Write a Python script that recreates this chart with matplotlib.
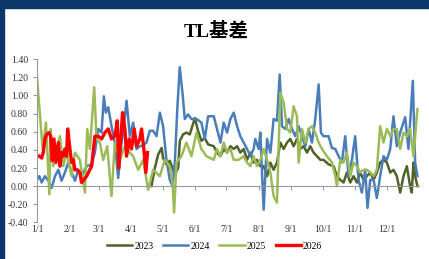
import matplotlib.pyplot as plt
from matplotlib.patches import Rectangle

# day of year (0 = 1/1) and basis values
d2023 = [109.4, 112.6, 115.8, 119.1, 120.5, 123.7, 126.9, 131.7, 134.9, 136.5, 139.6, 142.8, 146, 150.8,
         153.9, 157.1, 160.3, 163.5, 168.9, 172, 175.3, 178.4, 181.6, 184.8, 188, 191.2, 194.3, 197.5,
         200.7, 203.9, 207, 210.2, 213.4, 216.6, 219.8, 223, 226.1, 229.3, 232.5, 235.7, 238.9, 242,
         245.2, 248.4, 251.6, 254.8, 258, 261.1, 264.3, 267.5, 270.7, 273.8, 278.6, 283.4, 286.6, 289.8,
         292.9, 296.1, 299.3, 302.5, 305.7, 308.8, 312, 315.2, 318.4, 321.6, 324.7, 327.9, 331.1, 334.3,
         337.5, 340.6, 343.8, 347, 350.2, 353.4, 356.5, 358.1, 359.7, 361.3, 363.5]
v2023 = [0.0, 0.20, 0.35, 0.42, 0.31, 0.24, 0.28, 0.13, 0.20, 0.50, 0.57, 0.59, 0.57, 0.75,
         0.61, 0.50, 0.53, 0.46, 0.44, 0.37, 0.33, 0.41, 0.37, 0.44, 0.41, 0.44, 0.37, 0.41,
         0.29, 0.37, 0.26, 0.29, 0.22, 0.22, 0.11, 0.26, 0.18, 0.26, 0.48, 0.41, 0.48, 0.52,
         0.44, 0.52, 0.41, 0.44, 0.37, 0.44, 0.37, 0.33, 0.29, 0.29, 0.24, 0.22, 0.11, 0.07,
         0.04, 0.15, 0.04, 0.11, 0.04, 0.15, 0.07, 0.11, 0.15, 0.07, 0.15, 0.26, 0.29, 0.26,
         0.15, 0.18, 0.11, -0.07, 0.11, 0.22, 0.0, -0.07, 0.26, 0.11, 0.0]

d2024 = [0, 2.2, 4.5, 7.6, 10.8, 14, 17.2, 20.4, 23.5, 26.7, 29.9, 33.1, 36.3, 39.4, 42.6, 47.4, 52.2,
         55.3, 58.5, 61.7, 63.9, 65.8, 68.1, 71.2, 74.4, 77.6, 80.8, 83, 85.6, 88.7, 91.9, 95.1, 98.3,
         101.5, 104.6, 107.8, 111, 114.2, 117.4, 120.5, 123.7, 126.9, 129.5, 131.7, 134.2, 136.4, 139,
         141.2, 144.4, 147.6, 152.4, 157.1, 160.3, 163.5, 168.9, 172, 175.3, 178.4, 181.6, 184.8, 188,
         191.2, 194.3, 197.5, 200.7, 203.9, 207, 208.6, 211.8, 213.4, 215, 216.6, 219.8, 223, 226.1,
         229.3, 231.9, 234.1, 237.3, 240.5, 243.6, 246.8, 250, 253.2, 256.4, 259.5, 262.7, 265.9, 269.1,
         271.3, 273.8, 278.6, 281.8, 285, 288.2, 291.3, 294.5, 297.7, 300.9, 304, 307.2, 310.4, 313.6,
         315.8, 318.4, 321.6, 324.7, 327.9, 331.1, 334.3, 337.5, 340.6, 343.8, 347, 351.8, 354.9, 359.1,
         361.3, 363.5]
v2024 = [0.07, 0.11, 0.04, 0.11, 0.06, -0.02, 0.11, 0.18, 0.06, 0.15, 0.26, 0.15, 0.06, 0.18, 0.11, 0.22, 0.24,
         0.37, 0.63, 0.59, 0.99, 0.81, 0.87, 0.66, 0.48, 0.09, 0.48, 0.66, 0.94, 0.55, 0.70, 0.41, 0.44,
         0.45, 0.48, 0.61, 0.61, 0.55, 0.81, 0.66, 0.29, 0.07, 0.0, 0.26, 0.88, 1.31, 1.03,
         0.74, 0.79, 0.74, 0.74, 0.70, 0.52, 0.77, 0.77, 0.63, 0.48, 0.70, 0.59, 0.74, 0.81,
         0.66, 0.55, 0.48, 0.41, 0.33, 0.41, 0.52, 0.41, 0.59, 0.15, -0.26, 0.52, 0.37, 0.74,
         0.72, 1.23, 0.66, 0.63, 0.74, 0.63, 0.55, 0.66, 0.55, 0.44, 0.63, 0.48, 0.74, 1.12,
         0.59, 0.55, 0.55, 0.42, 0.41, 0.33, 0.26, 0.55, 0.11, 0.29, 0.55, 0.07, -0.07, 0.18,
         -0.24, 0.07, 0.07, -0.13, 0.11, 0.33, 0.29, 0.41, 0.77, 0.44, 0.59, 0.76, 0.41, 1.16,
         0.26, 0.11]

d2025 = [0, 5.4, 8.6, 11.8, 13, 15.6, 18.8, 21.9, 25.1, 28.3, 33.1, 36.3, 41, 45.8, 48, 50.6, 54.7,
         56.9, 60.1, 63.3, 67.1, 71.2, 74.4, 79.2, 84, 88.7, 91.9, 96.7, 101.5, 106.2, 111, 117.4, 122.1,
         126.9, 129.5, 131, 133.3, 138, 142.8, 147.6, 152.4, 157.1, 161.9, 168.9, 172, 175.3, 178.4,
         181.6, 184.8, 188, 192.7, 197.5, 200.7, 203.9, 207, 210.2, 213.4, 216.6, 219.8, 223, 226.1,
         229.3, 232.5, 235.7, 238.9, 242, 245.2, 248.4, 250, 253.2, 256.4, 259.5, 262.7, 265.9, 269.1,
         272.3, 277, 281.8, 285, 286.6, 289.8, 292.9, 296.1, 299.3, 302.5, 305.7, 308.8, 312, 315.2,
         318.4, 321.6, 324.7, 327.9, 331.1, 334.3, 337.5, 340.6, 343.8, 347, 350.2, 353.4, 356.5,
         359.7, 363.5]
v2025 = [1.20, 0.41, 0.70, -0.09, 0.63, 0.22, 0.41, 0.55, 0.22, 0.37, 0.11, 0.37, 0.29, -0.07, 0.63, 0.41, 1.09,
         0.52, 0.48, 0.29, 0.44, -0.11, 0.48, 0.29, 0.44, 0.37, 0.33, 0.18, 0.29, -0.04, 0.18, 0.11, 0.29,
         0.22, 0.04, -0.29, 0.26, 0.33, 0.48, 0.33, 0.59, 0.41, 0.33, 0.29, 0.41, 0.33, 0.48,
         0.37, 0.41, 0.29, 0.29, 0.33, 0.26, 0.22, 0.33, 0.22, 0.29, 0.41, 0.29, 0.15, -0.11,
         -0.18, 1.03, 0.92, 0.63, 0.59, 0.88, 0.77, 0.26, 0.63, 0.48, 0.63, 0.66, 0.59, 0.48,
         0.41, 0.33, 0.26, 0.11, 0.0, 0.29, 0.26, 0.37, 0.11, 0.26, 0.22, 0.15, 0.18, 0.18,
         0.15, 0.11, 0.18, 0.66, 0.48, 0.63, 0.55, 0.63, 0.63, 0.41, 0.59, 0.55, 0.63,
         0.33, 0.85]

d2026 = [2.2, 4.5, 6, 7.6, 9.2, 11.5, 13, 14.6, 16.2, 18.1, 20.4, 21.9, 23.5, 25.1, 26.7, 28.3, 29.3,
         31.5, 33.1, 34.7, 36.3, 38.5, 41, 42.6, 47.4, 52.2, 55.3, 58.5, 61.7, 64.9, 68.1, 71.2, 74.4,
         76.7, 78.2, 80.8, 81.7, 84, 85.6, 88.1, 90.3, 92.9, 95.1, 98.3, 99.9, 102.1, 104, 105.6]
v2026 = [0.33, 0.31, 0.37, 0.52, 0.57, 0.59, 0.55, 0.28, 0.52, 0.26, 0.48, 0.22, 0.37, 0.33, 0.41, 0.33, 0.63,
         0.41, 0.26, 0.29, 0.18, 0.18, 0.15, 0.04, 0.11, 0.22, 0.55, 0.55, 0.52, 0.59, 0.63, 0.52, 0.55,
         0.72, 0.20, 0.64, 0.81, 0.63, 0.33, 0.52, 0.41, 0.63, 0.44, 0.52, 0.63, 0.41, 0.15, 0.37]

month_days = [0, 31, 59, 90, 120, 151, 181, 212, 243, 273, 304, 334]
month_labels = ['1/1', '2/1', '3/1', '4/1', '5/1', '6/1', '7/1', '8/1', '9/1', '10/1', '11/1', '12/1']
y_ticks = [-0.4, -0.2, 0.0, 0.2, 0.4, 0.6, 0.8, 1.0, 1.2, 1.4]

tick_font = dict(family='Liberation Serif', size=7, color='#333333')

fig = plt.figure(figsize=(4.29, 2.59), dpi=100)
# navy frame on top and left
fig.patches.append(Rectangle((0, 1 - 8 / 259), 1, 8 / 259, transform=fig.transFigure, color='#0e3769', zorder=0))
fig.patches.append(Rectangle((0, 0), 4 / 429, 1, transform=fig.transFigure, color='#0e3769', zorder=0))

ax = fig.add_axes([0.0862, 0.141, 0.8905, 0.631])
ax.plot(d2023, v2023, color='#4f6228', lw=1.8, label='2023')
ax.plot(d2024, v2024, color='#4a7ebb', lw=1.8, label='2024')
ax.plot(d2025, v2025, color='#9bbb59', lw=1.8, label='2025')
ax.plot(d2026, v2026, color='#ff0000', lw=2.4, label='2026')

ax.set_xlim(0, 365)
ax.set_ylim(-0.4, 1.4)
ax.set_yticks(y_ticks)
ax.set_yticklabels([f'{t:.2f}' for t in y_ticks], fontdict=tick_font)
ax.tick_params(axis='y', length=3, width=0.8, color='#999999', pad=3.5)

for s in ['top', 'right']:
    ax.spines[s].set_visible(False)
ax.spines['left'].set_color('#999999')
ax.spines['bottom'].set_color('#999999')
ax.spines['bottom'].set_position(('data', 0))
ax.set_xticks(month_days)
ax.tick_params(axis='x', length=3, width=0.8, color='#999999', labelbottom=False)

sec = ax.secondary_xaxis(0.0)
sec.set_xticks(month_days)
sec.set_xticklabels(month_labels, fontdict=tick_font)
sec.tick_params(length=0, pad=2)
sec.spines['bottom'].set_visible(False)

fig.text(0.503, 0.878, 'TL基差', ha='center', va='center', fontsize=14, fontweight='bold',
         family=['Liberation Serif', 'Noto Sans CJK SC'])

fig.legend(loc='center', bbox_to_anchor=(0.5, 0.05), ncol=4, frameon=False,
           prop={'family': 'Liberation Serif', 'size': 7}, handlelength=2.6,
           handletextpad=0.2, columnspacing=1.0)

fig.savefig('out.png', dpi=100)
